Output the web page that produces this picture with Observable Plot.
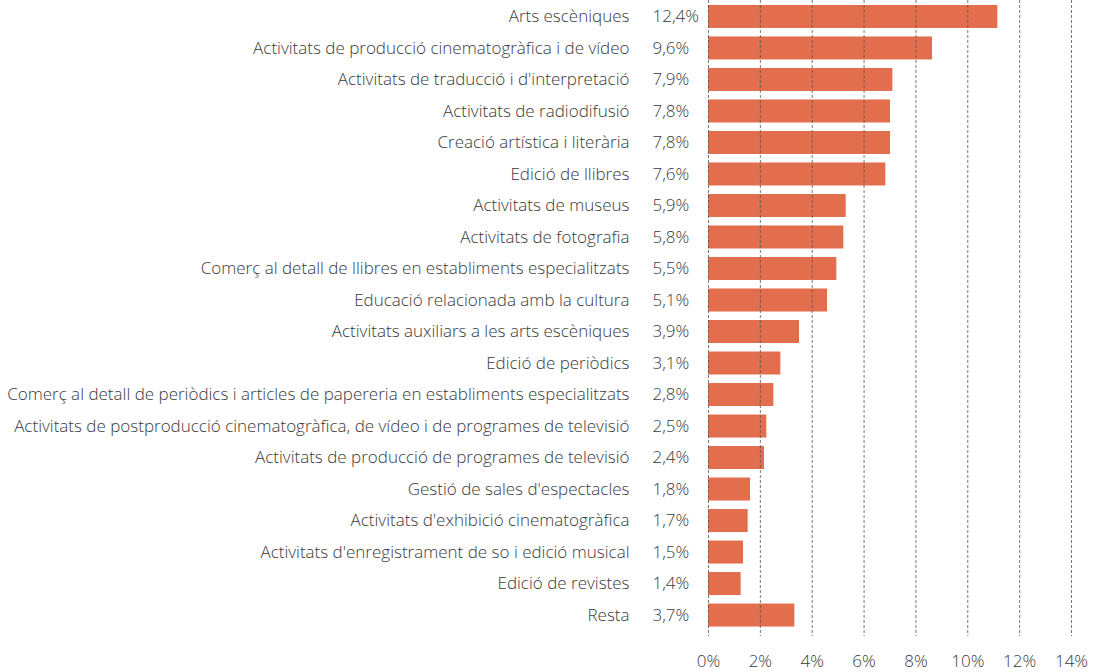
<!DOCTYPE html>
<html>
<head>
<meta charset="utf-8">
<script src="https://cdn.jsdelivr.net/npm/d3@7"></script>
<script src="https://cdn.jsdelivr.net/npm/@observablehq/plot@0.6"></script>
<style>
  html, body { margin: 0; padding: 0; background: #fff; }
  svg { font-family: "Open Sans", sans-serif; font-weight: 300; }
</style>
</head>
<body>
<div id="chart"></div>
<script>
const categories = [
  "Arts escèniques",
  "Activitats de producció cinematogràfica i de vídeo",
  "Activitats de traducció i d'interpretació",
  "Activitats de radiodifusió",
  "Creació artística i literària",
  "Edició de llibres",
  "Activitats de museus",
  "Activitats de fotografia",
  "Comerç al detall de llibres en establiments especialitzats",
  "Educació relacionada amb la cultura",
  "Activitats auxiliars a les arts escèniques",
  "Edició de periòdics",
  "Comerç al detall de periòdics i articles de papereria en establiments especialitzats",
  "Activitats de postproducció cinematogràfica, de vídeo i de programes de televisió",
  "Activitats de producció de programes de televisió",
  "Gestió de sales d'espectacles",
  "Activitats d'exhibició cinematogràfica",
  "Activitats d'enregistrament de so i edició musical",
  "Edició de revistes",
  "Resta"
];
const values = [12.4, 9.6, 7.9, 7.8, 7.8, 7.6, 5.9, 5.8, 5.5, 5.1, 3.9, 3.1, 2.8, 2.5, 2.4, 1.8, 1.7, 1.5, 1.4, 3.7];
const tickLabels = ["0%", "2%", "4%", "6%", "8%", "10%", "12%", "14%"];
const tickNumbers = [0, 2, 4, 6, 8, 10, 12, 14];
// In the original, the axis gridlines are spaced such that one axis unit = 1/0.9 of a bar unit
const axisRatio = 0.9;

const data = categories.map((c, i) => ({ category: c, value: values[i] }));
const fmt = v => v.toFixed(1).replace(".", ",") + "%";
const tickPos = tickNumbers.map(t => t / axisRatio);
const tickMap = new Map(tickPos.map((p, i) => [p, tickLabels[i]]));

const textColor = "#3a3a3a";
const chart = Plot.plot({
  width: 1101,
  height: 672,
  marginLeft: 708,
  marginRight: 30,
  marginTop: 0,
  marginBottom: 36,
  style: { fontSize: "17px", color: textColor },
  x: { domain: [0, 14 / axisRatio], axis: null, label: null },
  y: { domain: categories, range: [-4.5, 636], paddingInner: 0.27, paddingOuter: 0.3, round: false, axis: null, label: null },
  marks: [
    Plot.barX(data, { y: "category", x: "value", fill: "#e36e4d" }),
    Plot.ruleX(tickPos, { stroke: "#555", strokeWidth: 1, strokeDasharray: "3,2", strokeOpacity: 0.8 }),
    Plot.axisY({ tickSize: 0, tickPadding: 79, fontSize: 17, fill: textColor, label: null }),
    Plot.text(data, { y: "category", x: 0, text: d => fmt(d.value), dx: -56, textAnchor: "start", fontSize: 17, fill: textColor }),
    Plot.axisX({ ticks: tickPos, tickFormat: d => tickMap.get(d), tickSize: 0, tickPadding: 18, fontSize: 17, fill: textColor, label: null })
  ]
});
document.getElementById("chart").appendChild(chart);
</script>
</body>
</html>
